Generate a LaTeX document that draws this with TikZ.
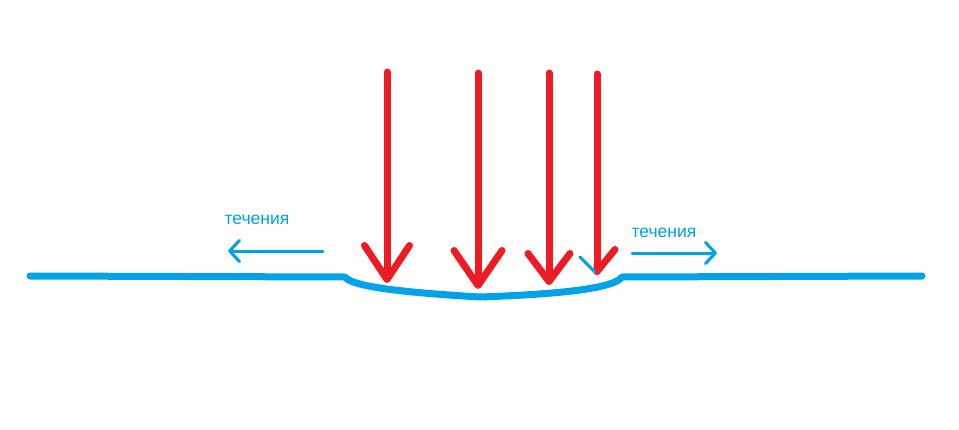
\documentclass[tikz,border=0pt]{standalone}
\usepackage{fontspec}
\setmainfont{Liberation Sans}
\usepackage{tikz}
\usetikzlibrary{arrows.meta}
\definecolor{PaintRed}{HTML}{ED1C24}
\definecolor{PaintBlue}{HTML}{00A2E8}

\begin{document}
\begin{tikzpicture}[x=0.02cm, y=-0.02cm, line cap=round, line join=round,
      every node/.append style={font=\fontsize{10}{12}\selectfont,color=PaintBlue,inner sep=0pt},
      ray/.style={draw=PaintRed,line width=1.4mm},
      surface/.style={draw=PaintBlue,line width=1.4mm},
      flow/.style={draw=PaintBlue,line width=0.6mm,-{Straight Barb[length=2mm,width=4.2mm,round]}}]
    \tikzstyle{bighead} = [-{Straight Barb[length=6.8mm,width=9mm,round]}]
    \useasboundingbox (0,0) rectangle (959,429);
    \coordinate (far_left) at (30,276);
    \coordinate (dip_left) at (345,277);
    \coordinate (dip_bottom) at (480,297);
    \coordinate (dip_right) at (622,277);
    \coordinate (far_right) at (922,276);
    \draw[surface] (far_left) -- (dip_left)
      .. controls (352,286) and (395,292) .. (dip_bottom)
      .. controls (565,294) and (614,288) .. (dip_right) -- (far_right);
    \coordinate (ray1_top) at (387,72);
    \coordinate (ray1_tip) at (387,283);
    \coordinate (ray2_top) at (478,73);
    \coordinate (ray2_tip) at (478,289);
    \coordinate (ray3_top) at (549,73);
    \coordinate (ray3_tip) at (549,285);
    \coordinate (ray4_top) at (597,74);
    \coordinate (ray4_tip) at (597,275);
    \draw[ray,bighead] (ray1_top) -- (ray1_tip);
    \draw[ray,-{Straight Barb[length=7mm,width=9.6mm,round]}] (ray2_top) -- (ray2_tip);
    \draw[ray,-{Straight Barb[length=5.6mm,width=8.4mm,round]}] (ray3_top) -- (ray3_tip);
    \draw[ray,-{Straight Barb[length=4.4mm,width=7.2mm,round,left]}] (ray4_top) -- (ray4_tip);
    \coordinate (stroke_a) at (580,257);
    \coordinate (stroke_b) at (595,272);
    \draw[draw=PaintBlue,line width=0.6mm] (stroke_a) -- (stroke_b);
    \coordinate (flow_left_from) at (323,251);
    \coordinate (flow_left_to) at (228,251);
    \coordinate (flow_right_from) at (632,253);
    \coordinate (flow_right_to) at (717,253);
    \draw[flow] (flow_left_from) -- (flow_left_to);
    \draw[flow] (flow_right_from) -- (flow_right_to);
    \node (left_label) at (257,220) {течения};
    \node (right_label) at (664,233) {течения};
\end{tikzpicture}
\end{document}
